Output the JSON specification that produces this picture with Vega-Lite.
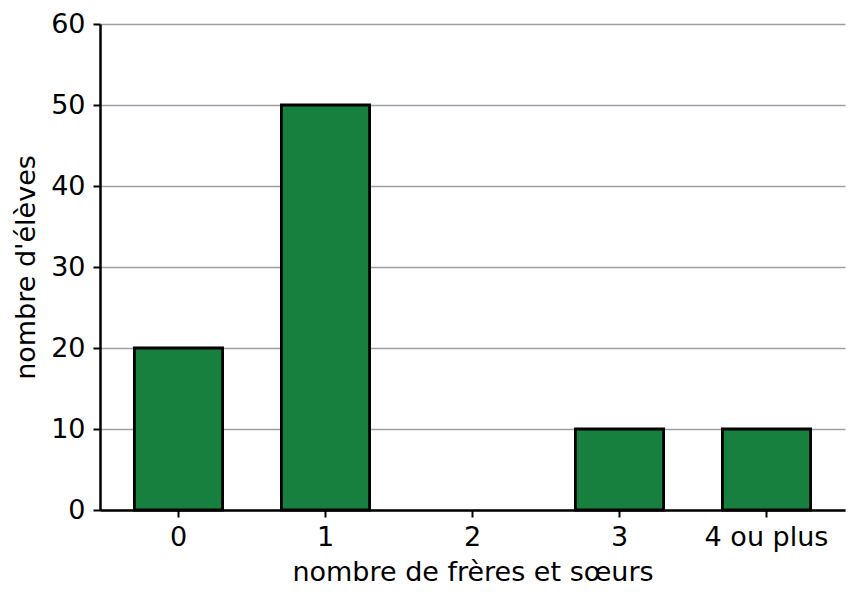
{
  "$schema": "https://vega.github.io/schema/vega-lite/v6.json",
  "width": 745,
  "height": 486,
  "autosize": "none",
  "padding": {"left": 100, "top": 24, "right": 14, "bottom": 94},
  "background": "white",
  "config": {
    "view": {"stroke": null},
    "font": "DejaVu Sans",
    "axis": {"labelFont": "DejaVu Sans", "titleFont": "DejaVu Sans", "labelColor": "black", "titleColor": "black", "titleFontWeight": "normal"}
  },
  "data": {
    "values": [
      {"cat": "0", "n": 20},
      {"cat": "1", "n": 50},
      {"cat": "2", "n": 0},
      {"cat": "3", "n": 10},
      {"cat": "4 ou plus", "n": 10}
    ]
  },
  "mark": {"type": "bar", "fill": "#17803f", "stroke": "black", "strokeWidth": 2.8},
  "encoding": {
    "x": {
      "field": "cat", "type": "nominal", "sort": null,
      "scale": {"paddingInner": 0.4, "paddingOuter": 0.234},
      "axis": {
        "title": "nombre de frères et sœurs",
        "labelAngle": 0, "labelFontSize": 27, "titleFontSize": 27,
        "domainColor": "black", "domainWidth": 2.5,
        "tickColor": "black", "tickWidth": 2, "tickSize": 7,
        "labelPadding": 7, "titlePadding": 9, "grid": false, "zindex": 1
      }
    },
    "y": {
      "field": "n", "type": "quantitative",
      "scale": {"domain": [0, 60], "nice": false},
      "axis": {
        "title": "nombre d'élèves",
        "values": [0, 10, 20, 30, 40, 50, 60],
        "labelFontSize": 27, "titleFontSize": 27,
        "domainColor": "black", "domainWidth": 2.5,
        "tickColor": "black", "tickWidth": 2, "tickSize": 7,
        "labelPadding": 8, "titlePadding": 10,
        "grid": true, "gridColor": "#9aa0a8", "gridWidth": 1.5
      }
    },
    "strokeOpacity": {"condition": {"test": "datum.n == 0", "value": 0}, "value": 1}
  }
}
